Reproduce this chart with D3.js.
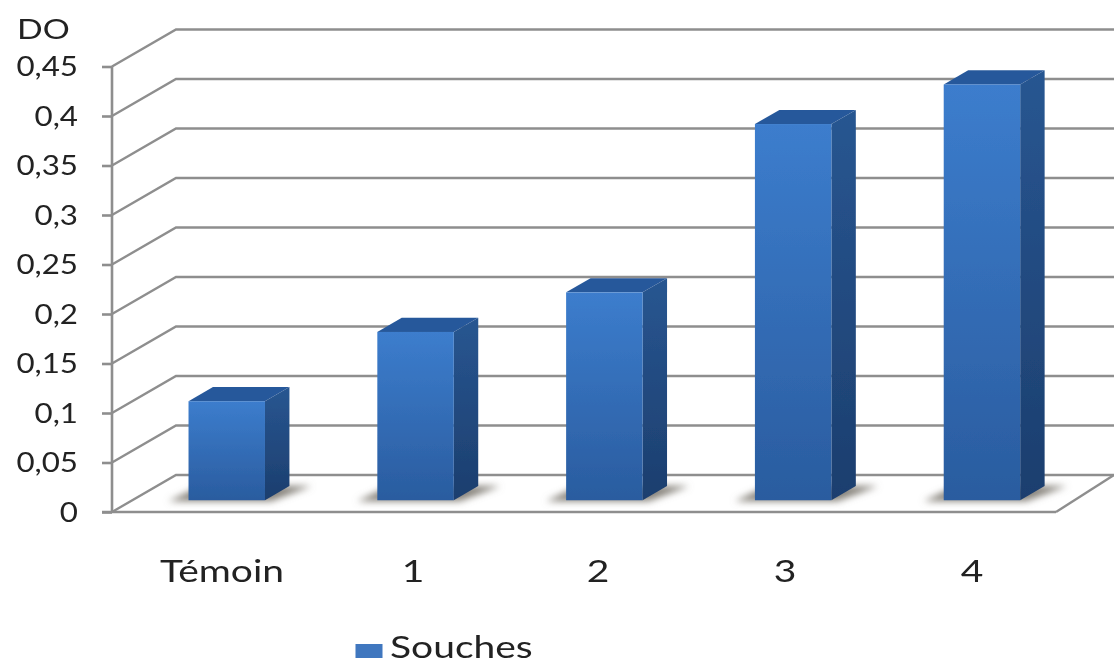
<!DOCTYPE html>
<html><head><meta charset="utf-8">
<script src="https://cdn.jsdelivr.net/npm/d3@7"></script>
<style>html,body{margin:0;background:#fff}svg{display:block}text{font-family:Lato,sans-serif;fill:#222}</style>
</head><body><svg id="c" width="1114" height="664"></svg>
<script>
const categories = ["Témoin","1","2","3","4"];
const values = [0.1,0.17,0.21,0.38,0.42];
const yTicks = [0,0.05,0.1,0.15,0.2,0.25,0.3,0.35,0.4,0.45];
const categoryLabelX = [222,413,598,785,972];
const seriesName = "Souches";
const yTitle = "DO";

const svg = d3.select("#c");
const W=1114,H=664,left=112,right=1056,y0=512,yTop=66.5,dx=64,dy=-37;
const y=d3.scaleLinear().domain([0,0.45]).range([y0,yTop]);
const x=d3.scaleBand().domain(categories).range([left,right]).paddingInner(0.595).paddingOuter(0.2975);
const depthFront=0.318, depthBack=0.7;
const grey="#8e8e8e";
const defs=svg.append("defs");
function grad(id,a,b){const g=defs.append("linearGradient").attr("id",id).attr("x1",0).attr("y1",0).attr("x2",0).attr("y2",1);
 g.append("stop").attr("offset",0).attr("stop-color",a);g.append("stop").attr("offset",1).attr("stop-color",b);}
grad("front","#3c7dcd","#2a5c9f");grad("side","#285691","#1c3e6e");
defs.append("filter").attr("id","soft").append("feGaussianBlur").attr("stdDeviation",0.6);
defs.append("filter").attr("id","shadow").attr("x","-30%").attr("y","-50%").attr("width","160%").attr("height","200%").append("feGaussianBlur").attr("stdDeviation",3.5);
const root=svg.append("g").attr("filter","url(#soft)");

const grid=root.append("g");
grid.selectAll("path").data(yTicks).join("path")
 .attr("fill","none").attr("stroke",grey).attr("stroke-width",2.4)
 .attr("d",d=>`M${left},${y(d)}L${left+dx},${y(d)+dy}L${W},${y(d)+dy}`);
root.append("path").attr("fill","none").attr("stroke",grey).attr("stroke-width",2.4)
 .attr("d",`M${right},${y0}L${W},${y0+dy}`);

const base=y0+dy*depthFront, baseBack=y0+dy*depthBack;
root.append("g").selectAll("path").data(categories).join("path")
 .attr("filter","url(#shadow)").attr("fill","#86827a")
 .attr("d",c=>{const a=x(c)+dx*depthFront,b=a+x.bandwidth(),s=dx*(depthBack-depthFront);
   return `M${a-20},${base+1}L${a+8},${baseBack+2}L${b+s},${baseBack}L${b+s+22},${baseBack}L${b+6},${base+1}Z`;});

const axis=d3.axisLeft(y).tickValues(yTicks).tickSize(10).tickPadding(0).tickFormat(d=>String(d).replace(".",","));
const ax=root.append("g").attr("transform",`translate(${left},0)`).call(axis);
ax.selectAll("path,line").attr("stroke",grey).attr("stroke-width",2.6);
ax.select(".domain").attr("d",`M0,${yTop}V${y0}`);
ax.selectAll("text").remove();
ax.selectAll(".tick").append("text")
 .attr("text-anchor","end").attr("font-size",27)
 .attr("transform","translate(-34,0) scale(1.16,1)").attr("dy","0.35em")
 .style("font-family","Lato,sans-serif").style("fill","#222")
 .text(d=>String(d).replace(".",","));
root.append("line").attr("x1",left-10).attr("x2",right).attr("y1",y0).attr("y2",y0).attr("stroke",grey).attr("stroke-width",2.6);

const bars=root.append("g").selectAll("g").data(categories.map((c,i)=>({c,v:values[i]}))).join("g");
const s=dx*(depthBack-depthFront), t=dy*(depthBack-depthFront);
bars.append("path").attr("fill","#28599b").attr("d",d=>{const a=x(d.c)+dx*depthFront,b=a+x.bandwidth(),top=y(d.v)+dy*depthFront;
  return `M${a},${top}L${a+s},${top+t}L${b+s},${top+t}L${b},${top}Z`;});
bars.append("path").attr("fill","url(#side)").attr("d",d=>{const b=x(d.c)+dx*depthFront+x.bandwidth(),top=y(d.v)+dy*depthFront;
  return `M${b},${top}L${b+s},${top+t}L${b+s},${base+t}L${b},${base}Z`;});
bars.append("rect").attr("fill","url(#front)")
  .attr("x",d=>x(d.c)+dx*depthFront).attr("width",x.bandwidth())
  .attr("y",d=>y(d.v)+dy*depthFront).attr("height",d=>y0-y(d.v));

root.append("g").selectAll("text").data(categories).join("text")
 .attr("text-anchor","middle").attr("font-size",30)
 .attr("transform",(c,i)=>`translate(${categoryLabelX[i]},582) scale(1.3,1)`).text(c=>c);
root.append("text").attr("font-size",27).attr("transform","translate(17,39) scale(1.25,1)").text(yTitle);
root.append("rect").attr("x",355.5).attr("y",644).attr("width",27).attr("height",14).attr("fill","#3f77bf");
root.append("text").attr("font-size",30).attr("transform","translate(390,658) scale(1.3,1)").text(seriesName);
</script></body></html>
